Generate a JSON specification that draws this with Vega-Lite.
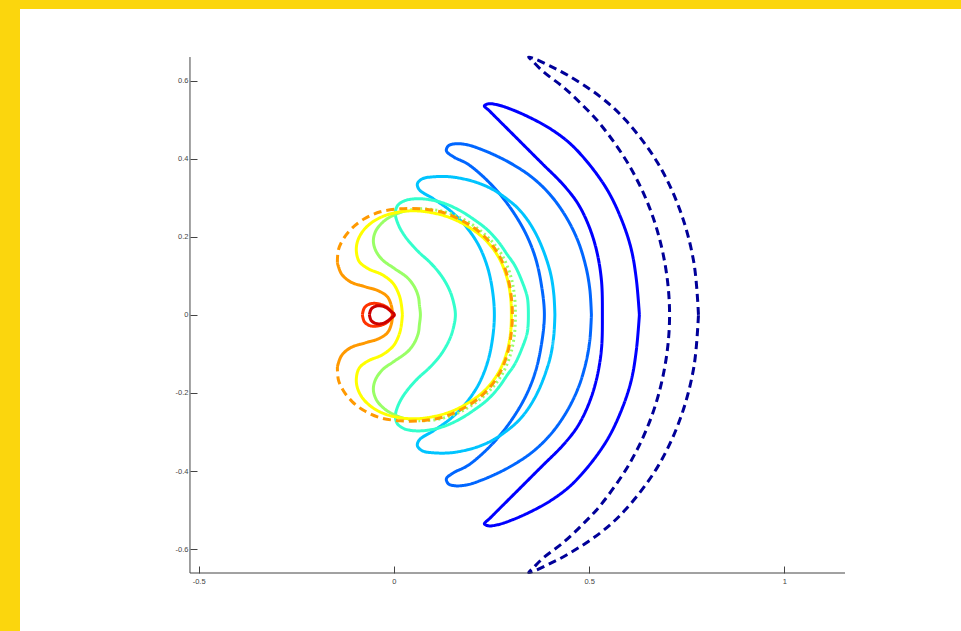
{
"$schema": "https://vega.github.io/schema/vega-lite/v6.json",
"width": 941, "height": 622,
"autosize": {"type": "none"},
"padding": {"left": 20, "top": 9, "right": 0, "bottom": 0},
"background": "#FBD60D",
"config": {"view": {"fill": "white", "stroke": null}},
"datasets": {"curves": [
{"t":1,"b":"2","x":0.780,"y":0},{"t":1,"b":"2","x":0.768,"y":0.135},{"t":1,"b":"2","x":0.733,"y":0.267},{"t":1,"b":"2","x":0.675,"y":0.390},{"t":1,"b":"2","x":0.594,"y":0.498},{"t":1,"b":"2","x":0.529,"y":0.558},{"t":1,"b":"2","x":0.446,"y":0.613},{"t":1,"b":"2","x":0.398,"y":0.638},{"t":1,"b":"2","x":0.362,"y":0.655},{"t":1,"b":"2","x":0.345,"y":0.660},{"t":1,"b":"2","x":0.355,"y":0.650},{"t":1,"b":"2","x":0.382,"y":0.623},{"t":1,"b":"2","x":0.435,"y":0.582},{"t":1,"b":"2","x":0.483,"y":0.537},{"t":1,"b":"2","x":0.528,"y":0.489},{"t":1,"b":"2","x":0.604,"y":0.380},{"t":1,"b":"2","x":0.660,"y":0.260},{"t":1,"b":"2","x":0.694,"y":0.132},{"t":1,"b":"2","x":0.706,"y":0},{"t":1,"b":"2","x":0.694,"y":-0.132},{"t":1,"b":"2","x":0.660,"y":-0.260},{"t":1,"b":"2","x":0.604,"y":-0.380},{"t":1,"b":"2","x":0.528,"y":-0.489},{"t":1,"b":"2","x":0.483,"y":-0.537},{"t":1,"b":"2","x":0.435,"y":-0.582},{"t":1,"b":"2","x":0.382,"y":-0.623},{"t":1,"b":"2","x":0.355,"y":-0.650},{"t":1,"b":"2","x":0.345,"y":-0.660},{"t":1,"b":"2","x":0.362,"y":-0.655},{"t":1,"b":"2","x":0.398,"y":-0.638},{"t":1,"b":"2","x":0.446,"y":-0.613},{"t":1,"b":"2","x":0.529,"y":-0.558},{"t":1,"b":"2","x":0.594,"y":-0.498},{"t":1,"b":"2","x":0.675,"y":-0.390},{"t":1,"b":"2","x":0.733,"y":-0.267},{"t":1,"b":"2","x":0.768,"y":-0.135},{"t":1,"b":"2","x":0.780,"y":0},

{"t":2,"b":"1","x":0.6287,"y":0},{"t":2,"b":"1","x":0.6210,"y":0.0896},{"t":2,"b":"1","x":0.6082,"y":0.1665},{"t":2,"b":"1","x":0.5852,"y":0.2382},{"t":2,"b":"1","x":0.5493,"y":0.3150},{"t":2,"b":"1","x":0.5032,"y":0.3816},{"t":2,"b":"1","x":0.4520,"y":0.4379},{"t":2,"b":"1","x":0.4008,"y":0.4763},{"t":2,"b":"1","x":0.3496,"y":0.5045},{"t":2,"b":"1","x":0.3035,"y":0.5250},{"t":2,"b":"1","x":0.2650,"y":0.5378},{"t":2,"b":"1","x":0.2420,"y":0.5403},{"t":2,"b":"1","x":0.2317,"y":0.5352},{"t":2,"b":"1","x":0.2445,"y":0.5224},{"t":2,"b":"1","x":0.2650,"y":0.5019},{"t":2,"b":"1","x":0.3214,"y":0.4456},{"t":2,"b":"1","x":0.3803,"y":0.3867},{"t":2,"b":"1","x":0.4315,"y":0.3355},{"t":2,"b":"1","x":0.4699,"y":0.2868},{"t":2,"b":"1","x":0.4981,"y":0.2305},{"t":2,"b":"1","x":0.5186,"y":0.1665},{"t":2,"b":"1","x":0.5314,"y":0.0896},{"t":2,"b":"1","x":0.5339,"y":0},{"t":2,"b":"1","x":0.5314,"y":-0.0896},{"t":2,"b":"1","x":0.5186,"y":-0.1665},{"t":2,"b":"1","x":0.4981,"y":-0.2305},{"t":2,"b":"1","x":0.4699,"y":-0.2868},{"t":2,"b":"1","x":0.4315,"y":-0.3355},{"t":2,"b":"1","x":0.3803,"y":-0.3867},{"t":2,"b":"1","x":0.3214,"y":-0.4456},{"t":2,"b":"1","x":0.2650,"y":-0.5019},{"t":2,"b":"1","x":0.2445,"y":-0.5224},{"t":2,"b":"1","x":0.2317,"y":-0.5352},{"t":2,"b":"1","x":0.2420,"y":-0.5403},{"t":2,"b":"1","x":0.2650,"y":-0.5378},{"t":2,"b":"1","x":0.3035,"y":-0.5250},{"t":2,"b":"1","x":0.3496,"y":-0.5045},{"t":2,"b":"1","x":0.4008,"y":-0.4763},{"t":2,"b":"1","x":0.4520,"y":-0.4379},{"t":2,"b":"1","x":0.5032,"y":-0.3816},{"t":2,"b":"1","x":0.5493,"y":-0.3150},{"t":2,"b":"1","x":0.5852,"y":-0.2382},{"t":2,"b":"1","x":0.6082,"y":-0.1665},{"t":2,"b":"1","x":0.6210,"y":-0.0896},{"t":2,"b":"1","x":0.6287,"y":0},

{"t":3,"b":"1","x":0.5058,"y":0},{"t":3,"b":"1","x":0.5019,"y":0.0640},{"t":3,"b":"1","x":0.4917,"y":0.1229},{"t":3,"b":"1","x":0.4712,"y":0.1895},{"t":3,"b":"1","x":0.4392,"y":0.2535},{"t":3,"b":"1","x":0.3982,"y":0.3099},{"t":3,"b":"1","x":0.3521,"y":0.3534},{"t":3,"b":"1","x":0.3060,"y":0.3841},{"t":3,"b":"1","x":0.2676,"y":0.4046},{"t":3,"b":"1","x":0.2266,"y":0.4225},{"t":3,"b":"1","x":0.1882,"y":0.4353},{"t":3,"b":"1","x":0.1575,"y":0.4379},{"t":3,"b":"1","x":0.1396,"y":0.4328},{"t":3,"b":"1","x":0.1344,"y":0.4200},{"t":3,"b":"1","x":0.1524,"y":0.4046},{"t":3,"b":"1","x":0.1882,"y":0.3867},{"t":3,"b":"1","x":0.2318,"y":0.3509},{"t":3,"b":"1","x":0.2727,"y":0.3073},{"t":3,"b":"1","x":0.3086,"y":0.2586},{"t":3,"b":"1","x":0.3393,"y":0.2049},{"t":3,"b":"1","x":0.3624,"y":0.1460},{"t":3,"b":"1","x":0.3777,"y":0.0768},{"t":3,"b":"1","x":0.3854,"y":0},{"t":3,"b":"1","x":0.3777,"y":-0.0768},{"t":3,"b":"1","x":0.3624,"y":-0.1460},{"t":3,"b":"1","x":0.3393,"y":-0.2049},{"t":3,"b":"1","x":0.3086,"y":-0.2586},{"t":3,"b":"1","x":0.2727,"y":-0.3073},{"t":3,"b":"1","x":0.2318,"y":-0.3509},{"t":3,"b":"1","x":0.1882,"y":-0.3867},{"t":3,"b":"1","x":0.1524,"y":-0.4046},{"t":3,"b":"1","x":0.1344,"y":-0.4200},{"t":3,"b":"1","x":0.1396,"y":-0.4328},{"t":3,"b":"1","x":0.1575,"y":-0.4379},{"t":3,"b":"1","x":0.1882,"y":-0.4353},{"t":3,"b":"1","x":0.2266,"y":-0.4225},{"t":3,"b":"1","x":0.2676,"y":-0.4046},{"t":3,"b":"1","x":0.3060,"y":-0.3841},{"t":3,"b":"1","x":0.3521,"y":-0.3534},{"t":3,"b":"1","x":0.3982,"y":-0.3099},{"t":3,"b":"1","x":0.4392,"y":-0.2535},{"t":3,"b":"1","x":0.4712,"y":-0.1895},{"t":3,"b":"1","x":0.4917,"y":-0.1229},{"t":3,"b":"1","x":0.5019,"y":-0.0640},{"t":3,"b":"1","x":0.5058,"y":0},

{"t":4,"b":"1","x":0.4123,"y":0},{"t":4,"b":"1","x":0.4097,"y":0.0512},{"t":4,"b":"1","x":0.4020,"y":0.1024},{"t":4,"b":"1","x":0.3867,"y":0.1536},{"t":4,"b":"1","x":0.3662,"y":0.2023},{"t":4,"b":"1","x":0.3419,"y":0.2433},{"t":4,"b":"1","x":0.3163,"y":0.2740},{"t":4,"b":"1","x":0.2855,"y":0.2996},{"t":4,"b":"1","x":0.2548,"y":0.3201},{"t":4,"b":"1","x":0.2215,"y":0.3355},{"t":4,"b":"1","x":0.1882,"y":0.3457},{"t":4,"b":"1","x":0.1447,"y":0.3534},{"t":4,"b":"1","x":0.1012,"y":0.3534},{"t":4,"b":"1","x":0.0730,"y":0.3483},{"t":4,"b":"1","x":0.0602,"y":0.3355},{"t":4,"b":"1","x":0.0653,"y":0.3201},{"t":4,"b":"1","x":0.1012,"y":0.2971},{"t":4,"b":"1","x":0.1447,"y":0.2663},{"t":4,"b":"1","x":0.1831,"y":0.2279},{"t":4,"b":"1","x":0.2164,"y":0.1793},{"t":4,"b":"1","x":0.2394,"y":0.1229},{"t":4,"b":"1","x":0.2522,"y":0.0640},{"t":4,"b":"1","x":0.2573,"y":0},{"t":4,"b":"1","x":0.2522,"y":-0.0640},{"t":4,"b":"1","x":0.2394,"y":-0.1229},{"t":4,"b":"1","x":0.2164,"y":-0.1793},{"t":4,"b":"1","x":0.1831,"y":-0.2279},{"t":4,"b":"1","x":0.1447,"y":-0.2663},{"t":4,"b":"1","x":0.1012,"y":-0.2971},{"t":4,"b":"1","x":0.0653,"y":-0.3201},{"t":4,"b":"1","x":0.0602,"y":-0.3355},{"t":4,"b":"1","x":0.0730,"y":-0.3483},{"t":4,"b":"1","x":0.1012,"y":-0.3534},{"t":4,"b":"1","x":0.1447,"y":-0.3534},{"t":4,"b":"1","x":0.1882,"y":-0.3457},{"t":4,"b":"1","x":0.2215,"y":-0.3355},{"t":4,"b":"1","x":0.2548,"y":-0.3201},{"t":4,"b":"1","x":0.2855,"y":-0.2996},{"t":4,"b":"1","x":0.3163,"y":-0.2740},{"t":4,"b":"1","x":0.3419,"y":-0.2433},{"t":4,"b":"1","x":0.3662,"y":-0.2023},{"t":4,"b":"1","x":0.3867,"y":-0.1536},{"t":4,"b":"1","x":0.4020,"y":-0.1024},{"t":4,"b":"1","x":0.4097,"y":-0.0512},{"t":4,"b":"1","x":0.4123,"y":0},

{"t":5,"b":"1","x":0.3444,"y":0},{"t":5,"b":"1","x":0.3419,"y":0.0435},{"t":5,"b":"1","x":0.3265,"y":0.0896},{"t":5,"b":"1","x":0.3086,"y":0.1280},{"t":5,"b":"1","x":0.2907,"y":0.1536},{"t":5,"b":"1","x":0.2676,"y":0.1869},{"t":5,"b":"1","x":0.2394,"y":0.2177},{"t":5,"b":"1","x":0.2061,"y":0.2433},{"t":5,"b":"1","x":0.1703,"y":0.2663},{"t":5,"b":"1","x":0.1319,"y":0.2843},{"t":5,"b":"1","x":0.0935,"y":0.2945},{"t":5,"b":"1","x":0.0551,"y":0.2971},{"t":5,"b":"1","x":0.0269,"y":0.2919},{"t":5,"b":"1","x":0.0090,"y":0.2791},{"t":5,"b":"1","x":0.0038,"y":0.2586},{"t":5,"b":"1","x":0.0115,"y":0.2305},{"t":5,"b":"1","x":0.0294,"y":0.1997},{"t":5,"b":"1","x":0.0602,"y":0.1639},{"t":5,"b":"1","x":0.0935,"y":0.1332},{"t":5,"b":"1","x":0.1217,"y":0.0999},{"t":5,"b":"1","x":0.1421,"y":0.0640},{"t":5,"b":"1","x":0.1524,"y":0.0333},{"t":5,"b":"1","x":0.1575,"y":0},{"t":5,"b":"1","x":0.1524,"y":-0.0333},{"t":5,"b":"1","x":0.1421,"y":-0.0640},{"t":5,"b":"1","x":0.1217,"y":-0.0999},{"t":5,"b":"1","x":0.0935,"y":-0.1332},{"t":5,"b":"1","x":0.0602,"y":-0.1639},{"t":5,"b":"1","x":0.0294,"y":-0.1997},{"t":5,"b":"1","x":0.0115,"y":-0.2305},{"t":5,"b":"1","x":0.0038,"y":-0.2586},{"t":5,"b":"1","x":0.0090,"y":-0.2791},{"t":5,"b":"1","x":0.0269,"y":-0.2919},{"t":5,"b":"1","x":0.0551,"y":-0.2971},{"t":5,"b":"1","x":0.0935,"y":-0.2945},{"t":5,"b":"1","x":0.1319,"y":-0.2843},{"t":5,"b":"1","x":0.1703,"y":-0.2663},{"t":5,"b":"1","x":0.2061,"y":-0.2433},{"t":5,"b":"1","x":0.2394,"y":-0.2177},{"t":5,"b":"1","x":0.2676,"y":-0.1869},{"t":5,"b":"1","x":0.2907,"y":-0.1536},{"t":5,"b":"1","x":0.3086,"y":-0.1280},{"t":5,"b":"1","x":0.3265,"y":-0.0896},{"t":5,"b":"1","x":0.3419,"y":-0.0435},{"t":5,"b":"1","x":0.3444,"y":0},

{"t":6,"b":"1","x":0.0294,"y":0.2663},{"t":6,"b":"1","x":0.0013,"y":0.2561},{"t":6,"b":"1","x":-0.0243,"y":0.2407},{"t":6,"b":"1","x":-0.0448,"y":0.2177},{"t":6,"b":"1","x":-0.0525,"y":0.1921},{"t":6,"b":"1","x":-0.0474,"y":0.1665},{"t":6,"b":"1","x":-0.0294,"y":0.1408},{"t":6,"b":"1","x":-0.0013,"y":0.1204},{"t":6,"b":"1","x":0.0346,"y":0.0948},{"t":6,"b":"1","x":0.0525,"y":0.0717},{"t":6,"b":"1","x":0.0627,"y":0.0461},{"t":6,"b":"1","x":0.0653,"y":0.0256},{"t":6,"b":"1","x":0.0679,"y":0},{"t":6,"b":"1","x":0.0653,"y":-0.0256},{"t":6,"b":"1","x":0.0627,"y":-0.0461},{"t":6,"b":"1","x":0.0525,"y":-0.0717},{"t":6,"b":"1","x":0.0346,"y":-0.0948},{"t":6,"b":"1","x":-0.0013,"y":-0.1204},{"t":6,"b":"1","x":-0.0294,"y":-0.1408},{"t":6,"b":"1","x":-0.0474,"y":-0.1665},{"t":6,"b":"1","x":-0.0525,"y":-0.1921},{"t":6,"b":"1","x":-0.0448,"y":-0.2177},{"t":6,"b":"1","x":-0.0243,"y":-0.2407},{"t":6,"b":"1","x":0.0013,"y":-0.2561},{"t":6,"b":"1","x":0.0294,"y":-0.2663},
{"t":6,"b":"3","x":0.0294,"y":0.2663},{"t":6,"b":"3","x":0.0679,"y":0.2714},{"t":6,"b":"3","x":0.1191,"y":0.2663},{"t":6,"b":"3","x":0.1652,"y":0.2510},{"t":6,"b":"3","x":0.2087,"y":0.2253},{"t":6,"b":"3","x":0.2471,"y":0.1921},{"t":6,"b":"3","x":0.2779,"y":0.1511},{"t":6,"b":"3","x":0.2983,"y":0.1024},{"t":6,"b":"3","x":0.3086,"y":0.0512},{"t":6,"b":"3","x":0.3111,"y":0},{"t":6,"b":"3","x":0.3086,"y":-0.0512},{"t":6,"b":"3","x":0.2983,"y":-0.1024},{"t":6,"b":"3","x":0.2779,"y":-0.1511},{"t":6,"b":"3","x":0.2471,"y":-0.1921},{"t":6,"b":"3","x":0.2087,"y":-0.2253},{"t":6,"b":"3","x":0.1652,"y":-0.2510},{"t":6,"b":"3","x":0.1191,"y":-0.2663},{"t":6,"b":"3","x":0.0679,"y":-0.2714},{"t":6,"b":"3","x":0.0294,"y":-0.2663},

{"t":7,"b":"1","x":0.0218,"y":0},{"t":7,"b":"1","x":0.0192,"y":0.0256},{"t":7,"b":"1","x":0.0141,"y":0.0487},{"t":7,"b":"1","x":-0.0013,"y":0.0794},{"t":7,"b":"1","x":-0.0294,"y":0.1024},{"t":7,"b":"1","x":-0.0653,"y":0.1178},{"t":7,"b":"1","x":-0.0883,"y":0.1357},{"t":7,"b":"1","x":-0.0960,"y":0.1613},{"t":7,"b":"1","x":-0.0935,"y":0.1869},{"t":7,"b":"1","x":-0.0807,"y":0.2125},{"t":7,"b":"1","x":-0.0576,"y":0.2356},{"t":7,"b":"1","x":-0.0243,"y":0.2535},{"t":7,"b":"1","x":0.0166,"y":0.2638},{"t":7,"b":"1","x":0.0551,"y":0.2663},{"t":7,"b":"1","x":0.0986,"y":0.2612},{"t":7,"b":"1","x":0.1447,"y":0.2484},{"t":7,"b":"1","x":0.1908,"y":0.2253},{"t":7,"b":"1","x":0.2343,"y":0.1921},{"t":7,"b":"1","x":0.2676,"y":0.1485},{"t":7,"b":"1","x":0.2881,"y":0.0999},{"t":7,"b":"1","x":0.2983,"y":0.0512},{"t":7,"b":"1","x":0.3009,"y":0},{"t":7,"b":"1","x":0.2983,"y":-0.0512},{"t":7,"b":"1","x":0.2881,"y":-0.0999},{"t":7,"b":"1","x":0.2676,"y":-0.1485},{"t":7,"b":"1","x":0.2343,"y":-0.1921},{"t":7,"b":"1","x":0.1908,"y":-0.2253},{"t":7,"b":"1","x":0.1447,"y":-0.2484},{"t":7,"b":"1","x":0.0986,"y":-0.2612},{"t":7,"b":"1","x":0.0551,"y":-0.2663},{"t":7,"b":"1","x":0.0166,"y":-0.2638},{"t":7,"b":"1","x":-0.0243,"y":-0.2535},{"t":7,"b":"1","x":-0.0576,"y":-0.2356},{"t":7,"b":"1","x":-0.0807,"y":-0.2125},{"t":7,"b":"1","x":-0.0935,"y":-0.1869},{"t":7,"b":"1","x":-0.0960,"y":-0.1613},{"t":7,"b":"1","x":-0.0883,"y":-0.1357},{"t":7,"b":"1","x":-0.0653,"y":-0.1178},{"t":7,"b":"1","x":-0.0294,"y":-0.1024},{"t":7,"b":"1","x":-0.0013,"y":-0.0794},{"t":7,"b":"1","x":0.0141,"y":-0.0487},{"t":7,"b":"1","x":0.0192,"y":-0.0256},{"t":7,"b":"1","x":0.0218,"y":0},

{"t":8,"b":"1","x":-0.1447,"y":0.1332},{"t":8,"b":"1","x":-0.1344,"y":0.1050},{"t":8,"b":"1","x":-0.1114,"y":0.0845},{"t":8,"b":"1","x":-0.0730,"y":0.0717},{"t":8,"b":"1","x":-0.0397,"y":0.0615},{"t":8,"b":"1","x":-0.0166,"y":0.0461},{"t":8,"b":"1","x":-0.0064,"y":0.0230},{"t":8,"b":"1","x":-0.0038,"y":0},{"t":8,"b":"1","x":-0.0064,"y":-0.0230},{"t":8,"b":"1","x":-0.0166,"y":-0.0461},{"t":8,"b":"1","x":-0.0397,"y":-0.0615},{"t":8,"b":"1","x":-0.0730,"y":-0.0717},{"t":8,"b":"1","x":-0.1114,"y":-0.0845},{"t":8,"b":"1","x":-0.1344,"y":-0.1050},{"t":8,"b":"1","x":-0.1447,"y":-0.1332},
{"t":8,"b":"2","x":-0.1447,"y":0.1332},{"t":8,"b":"2","x":-0.1421,"y":0.1665},{"t":8,"b":"2","x":-0.1293,"y":0.1946},{"t":8,"b":"2","x":-0.1063,"y":0.2228},{"t":8,"b":"2","x":-0.0755,"y":0.2458},{"t":8,"b":"2","x":-0.0346,"y":0.2638},{"t":8,"b":"2","x":0.0166,"y":0.2714},{"t":8,"b":"2","x":0.0679,"y":0.2714},{"t":8,"b":"2","x":0.1191,"y":0.2638},{"t":8,"b":"2","x":0.1652,"y":0.2458},{"t":8,"b":"2","x":0.2087,"y":0.2202},{"t":8,"b":"2","x":0.2471,"y":0.1844},{"t":8,"b":"2","x":0.2753,"y":0.1408},{"t":8,"b":"2","x":0.2932,"y":0.0896},{"t":8,"b":"2","x":0.3009,"y":0.0435},{"t":8,"b":"2","x":0.3035,"y":0},{"t":8,"b":"2","x":0.3009,"y":-0.0435},{"t":8,"b":"2","x":0.2932,"y":-0.0896},{"t":8,"b":"2","x":0.2753,"y":-0.1408},{"t":8,"b":"2","x":0.2471,"y":-0.1844},{"t":8,"b":"2","x":0.2087,"y":-0.2202},{"t":8,"b":"2","x":0.1652,"y":-0.2458},{"t":8,"b":"2","x":0.1191,"y":-0.2638},{"t":8,"b":"2","x":0.0679,"y":-0.2714},{"t":8,"b":"2","x":0.0166,"y":-0.2714},{"t":8,"b":"2","x":-0.0346,"y":-0.2638},{"t":8,"b":"2","x":-0.0755,"y":-0.2458},{"t":8,"b":"2","x":-0.1063,"y":-0.2228},{"t":8,"b":"2","x":-0.1293,"y":-0.1946},{"t":8,"b":"2","x":-0.1421,"y":-0.1665},{"t":8,"b":"2","x":-0.1447,"y":-0.1332},

{"t":9,"b":"1","x":-0.0807,"y":0},{"t":9,"b":"1","x":-0.0755,"y":0.0179},{"t":9,"b":"1","x":-0.0602,"y":0.0282},{"t":9,"b":"1","x":-0.0397,"y":0.0282},{"t":9,"b":"1","x":-0.0192,"y":0.0205},{"t":9,"b":"1","x":-0.0064,"y":0.0077},{"t":9,"b":"1","x":-0.0038,"y":0},{"t":9,"b":"1","x":-0.0064,"y":-0.0077},{"t":9,"b":"1","x":-0.0192,"y":-0.0205},{"t":9,"b":"1","x":-0.0397,"y":-0.0282},{"t":9,"b":"1","x":-0.0602,"y":-0.0282},{"t":9,"b":"1","x":-0.0755,"y":-0.0179},{"t":9,"b":"1","x":-0.0807,"y":0},

{"t":10,"b":"1","x":-0.0627,"y":0},{"t":10,"b":"1","x":-0.0576,"y":0.0154},{"t":10,"b":"1","x":-0.0423,"y":0.0230},{"t":10,"b":"1","x":-0.0243,"y":0.0205},{"t":10,"b":"1","x":-0.0090,"y":0.0102},{"t":10,"b":"1","x":0.0013,"y":0},{"t":10,"b":"1","x":-0.0090,"y":-0.0102},{"t":10,"b":"1","x":-0.0243,"y":-0.0205},{"t":10,"b":"1","x":-0.0423,"y":-0.0230},{"t":10,"b":"1","x":-0.0576,"y":-0.0154},{"t":10,"b":"1","x":-0.0627,"y":0}
]},
"layer": [
{
"data": {"name": "curves"},
"transform": [{"window": [{"op": "row_number", "as": "o"}]}],
"mark": {"type": "line", "strokeWidth": 3, "interpolate": "catmull-rom", "strokeJoin": "round", "clip": false},
"encoding": {
"x": {"field": "x", "type": "quantitative", "scale": {"domain": [-0.9575, 1.4523], "nice": false, "zero": false},
"axis": {"values": [-0.5, 0, 0.5, 1], "format": "~g", "labelExpr": "replace(datum.label, '\u2212', '-')", "domain": false, "grid": false, "tickSize": -7, "tickColor": "#444444", "labelPadding": 11, "offset": -58, "title": null, "labelFont": "Liberation Sans", "labelFontSize": 7.5, "labelColor": "#444444", "labelFlush": false, "labelOverlap": false}},
"y": {"field": "y", "type": "quantitative", "scale": {"domain": [-0.8097, 0.7831], "nice": false, "zero": false},
"axis": {"values": [-0.6, -0.4, -0.2, 0, 0.2, 0.4, 0.6], "format": "~g", "labelExpr": "replace(datum.label, '\u2212', '-')", "domain": false, "grid": false, "tickSize": -7, "tickColor": "#444444", "labelPadding": 9, "offset": -170, "title": null, "labelFont": "Liberation Sans", "labelFontSize": 7.5, "labelColor": "#444444", "labelFlush": false, "labelOverlap": false}},
"color": {"field": "t", "type": "ordinal", "scale": {"domain": [1,2,3,4,5,6,7,8,9,10], "range": ["#000099","#0000FF","#0066FF","#00C4FF","#33FFCC","#99FF66","#FFFF00","#FF9900","#FF3300","#CC0000"]}, "legend": null},
"strokeDash": {"field": "b", "type": "nominal", "scale": {"domain": ["1","2","3"], "range": [[1,0],[8,5],[2,3]]}, "legend": null},
"order": {"field": "o", "type": "quantitative"}
}
},
{
"data": {"values": [{}]},
"mark": {"type": "rule", "color": "#444444", "strokeWidth": 1},
"encoding": {"x": {"datum": -0.5222}, "x2": {"datum": 1.1552}, "y": {"datum": -0.6612}}
},
{
"data": {"values": [{}]},
"mark": {"type": "rule", "color": "#444444", "strokeWidth": 1},
"encoding": {"x": {"datum": -0.5222}, "y": {"datum": 0.6601}, "y2": {"datum": -0.6612}}
}
]
}
